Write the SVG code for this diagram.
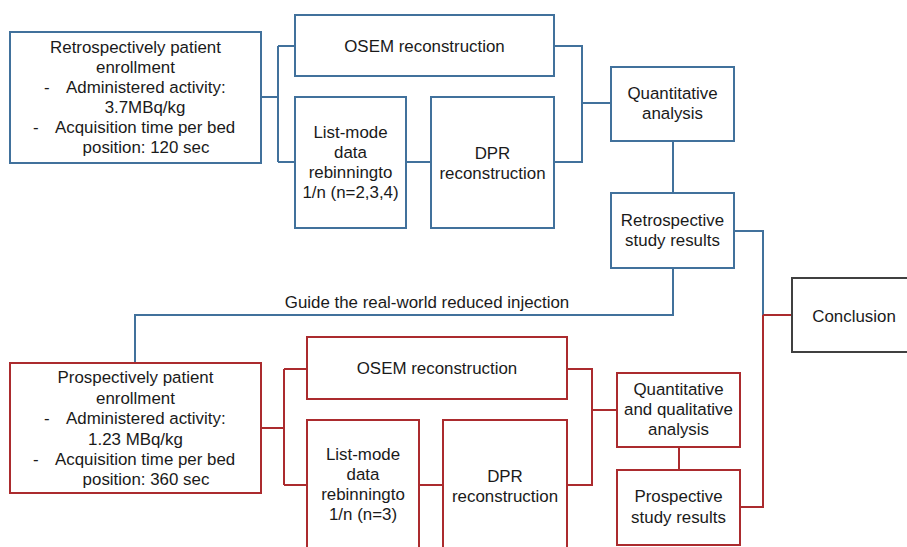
<svg xmlns="http://www.w3.org/2000/svg" width="907" height="547" viewBox="0 0 907 547">
<style>
text{font-family:"Liberation Sans",Arial,sans-serif;font-size:16.9px;fill:#1a1a1a;}
.c{text-anchor:middle;}
.b{fill:#fff;stroke:#41719c;stroke-width:2;}
.r{fill:#fff;stroke:#ab2b2e;stroke-width:2;}
.k{fill:#fff;stroke:#404040;stroke-width:2;}
.lb{fill:none;stroke:#41719c;stroke-width:2;}
.lr{fill:none;stroke:#ab2b2e;stroke-width:2;}
</style>
<rect width="907" height="547" fill="#fff"/>
<g id="connectors">
<path class="lb" d="M261 97H278M278 46V162M278 46H295M278 162H295M406 162H431M554 46H582V162H554M582 103H611M673 141V193M734 231H763V315M673 268V315H135V363"/>
<path class="lr" d="M763 315H792M261 428H284M284 369V485M284 369H307M284 485H307M419 485H443M567 369H592V485H567M592 410H617M679 447V470M740 507H763V315"/>
<text class="c" x="427" y="308">Guide the real-world reduced injection</text>
</g>
<g id="retro-enroll">
<rect class="b" x="10" y="32" width="251" height="131"/>
<text class="c" x="135.5" y="52.7">Retrospectively patient</text>
<text class="c" x="135.5" y="72.7">enrollment</text>
<text x="44" y="92.7">-</text><text x="66" y="92.7">Administered activity:</text>
<text class="c" x="145" y="112.7">3.7MBq/kg</text>
<text x="33" y="132.7">-</text><text x="55" y="132.7">Acquisition time per bed</text>
<text class="c" x="146" y="152.7">position: 120 sec</text>
</g>
<g id="osem-top">
<rect class="b" x="295" y="15" width="259" height="61"/>
<text class="c" x="424.5" y="52">OSEM reconstruction</text>
</g>
<g id="listmode-top">
<rect class="b" x="295" y="97" width="111" height="131"/>
<text class="c" x="350.5" y="138">List-mode</text>
<text class="c" x="350.5" y="158">data</text>
<text class="c" x="350.5" y="178">rebinningto</text>
<text class="c" x="350.5" y="198">1/n (n=2,3,4)</text>
</g>
<g id="dpr-top">
<rect class="b" x="431" y="97" width="123" height="131"/>
<text class="c" x="492.5" y="159">DPR</text>
<text class="c" x="492.5" y="179">reconstruction</text>
</g>
<g id="quant">
<rect class="b" x="611" y="67" width="123" height="74"/>
<text class="c" x="672.5" y="99">Quantitative</text>
<text class="c" x="672.5" y="119">analysis</text>
</g>
<g id="retro-results">
<rect class="b" x="611" y="193" width="123" height="75"/>
<text class="c" x="672.5" y="226">Retrospective</text>
<text class="c" x="672.5" y="246">study results</text>
</g>
<g id="conclusion">
<rect class="k" x="792" y="278" width="125" height="74"/>
<text class="c" x="854" y="322">Conclusion</text>
</g>
<g id="pro-enroll">
<rect class="r" x="10" y="363" width="251" height="130"/>
<text class="c" x="135.5" y="383">Prospectively patient</text>
<text class="c" x="135.5" y="403.5">enrollment</text>
<text x="44" y="424">-</text><text x="66" y="424">Administered activity:</text>
<text class="c" x="135.5" y="444.5">1.23 MBq/kg</text>
<text x="33" y="465">-</text><text x="55" y="465">Acquisition time per bed</text>
<text class="c" x="146" y="485">position: 360 sec</text>
</g>
<g id="osem-bottom">
<rect class="r" x="307" y="337" width="260" height="62"/>
<text class="c" x="437" y="374">OSEM reconstruction</text>
</g>
<g id="listmode-bottom">
<rect class="r" x="307" y="420" width="112" height="140"/>
<text class="c" x="363" y="460">List-mode</text>
<text class="c" x="363" y="480">data</text>
<text class="c" x="363" y="500">rebinningto</text>
<text class="c" x="363" y="520">1/n (n=3)</text>
</g>
<g id="dpr-bottom">
<rect class="r" x="443" y="420" width="124" height="140"/>
<text class="c" x="505" y="482">DPR</text>
<text class="c" x="505" y="502">reconstruction</text>
</g>
<g id="quant-qual">
<rect class="r" x="617" y="373" width="123" height="74"/>
<text class="c" x="678.5" y="395">Quantitative</text>
<text class="c" x="678.5" y="415">and qualitative</text>
<text class="c" x="678.5" y="435">analysis</text>
</g>
<g id="pro-results">
<rect class="r" x="617" y="470" width="123" height="75"/>
<text class="c" x="678.5" y="502">Prospective</text>
<text class="c" x="678.5" y="523">study results</text>
</g>
</svg>
